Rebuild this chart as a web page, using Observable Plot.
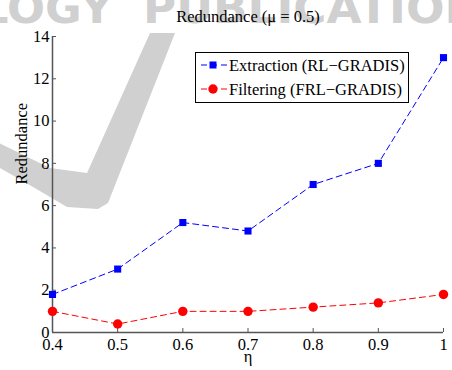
<!DOCTYPE html>
<html>
<head>
<meta charset="utf-8">
<script src="https://cdn.jsdelivr.net/npm/d3@7"></script>
<script src="https://cdn.jsdelivr.net/npm/@observablehq/plot@0.6"></script>
<style>
  body { margin: 0; background: white; }
  #wrap { position: relative; width: 452px; height: 370px; overflow: hidden; }
  #bg, #legend { position: absolute; left: 0; top: 0; }
  #legend { pointer-events: none; z-index: 2; }
  #chart { position: absolute; left: 0; top: 0; z-index: 1; }
</style>
</head>
<body>
<div id="wrap">
  <svg id="bg" width="452" height="370"></svg>
  <div id="chart"></div>
  <svg id="legend" width="452" height="370"></svg>
</div>
<script>
// ---- data ----
const etas = [0.4, 0.5, 0.6, 0.7, 0.8, 0.9, 1.0];
const extraction = [1.8, 3.0, 5.2, 4.8, 7.0, 8.0, 13.0];
const filtering = [1.0, 0.4, 1.0, 1.0, 1.2, 1.4, 1.8];
const seriesNames = ["Extraction (RL\u2212GRADIS)", "Filtering (FRL\u2212GRADIS)"];
const xTicks = [0.4, 0.5, 0.6, 0.7, 0.8, 0.9, 1];
const yTicks = [0, 2, 4, 6, 8, 10, 12, 14];
const titleText = "Redundance (\u03bc = 0.5)";
const xLabel = "\u03b7";
const yLabel = "Redundance";
const watermarkWords = ["LOGY", "PUBLICATIONS"];

const extData = etas.map((e, i) => ({eta: e, value: extraction[i]}));
const filData = etas.map((e, i) => ({eta: e, value: filtering[i]}));

const font = "'Liberation Serif', 'Times New Roman', serif";
const fs = 16.5;
const blue = "#0000ff", red = "#ff0000", axisColor = "#555";

// ---- background watermark (decoration) ----
const bg = d3.select("#bg");
const wmColor = "#d0d0d0";
bg.append("path")
  .attr("d", "M-5,141 L50,168 L87,173 L150,33 L175,33 L108,203 L98,209 L67,207 L33,187 L-5,165 Z")
  .attr("fill", wmColor);
bg.append("text").text(watermarkWords[0])
  .attr("x", -20).attr("y", 23)
  .attr("textLength", 133).attr("lengthAdjust", "spacingAndGlyphs")
  .attr("font-family", "DejaVu Sans").attr("font-weight", "bold").attr("font-size", 42)
  .attr("fill", wmColor);
bg.append("text").text(watermarkWords[1])
  .attr("x", 143).attr("y", 23)
  .attr("textLength", 372).attr("lengthAdjust", "spacingAndGlyphs")
  .attr("font-family", "DejaVu Sans").attr("font-weight", "bold").attr("font-size", 42)
  .attr("fill", wmColor);

// ---- chart ----
const chart = Plot.plot({
  width: 452,
  height: 370,
  marginLeft: 52,
  marginRight: 9,
  marginTop: 36,
  marginBottom: 38,
  style: {fontFamily: font, fontSize: fs + "px", background: "transparent", color: "black", overflow: "visible"},
  x: {domain: [0.4, 1], label: null},
  y: {domain: [0, 14], label: null},
  marks: [
    Plot.ruleX([0.4], {stroke: axisColor, strokeWidth: 1.5}),
    Plot.ruleY([0], {stroke: axisColor, strokeWidth: 1.5}),
    Plot.axisX(xTicks, {tickSize: 4, dy: -4, text: null, stroke: axisColor, label: null}),
    Plot.axisX(xTicks, {tickSize: 0, tickPadding: 6, tickFormat: d => String(d), fontSize: fs, fontFamily: font, label: null}),
    Plot.axisY(yTicks, {tickSize: 4, dx: 4, text: null, stroke: axisColor, label: null}),
    Plot.axisY(yTicks, {tickSize: 0, tickPadding: 3, fontSize: fs, fontFamily: font, label: null}),
    Plot.line(extData, {x: "eta", y: "value", stroke: blue, strokeWidth: 1, strokeDasharray: "6,4"}),
    Plot.line(filData, {x: "eta", y: "value", stroke: red, strokeWidth: 1, strokeDasharray: "6,4"}),
    Plot.dot(extData, {x: "eta", y: "value", symbol: "square", r: 4, fill: blue, stroke: "none"}),
    Plot.dot(filData, {x: "eta", y: "value", symbol: "circle", r: 4.7, fill: red, stroke: "none"}),
    Plot.text([titleText], {frameAnchor: "top", dy: -14.5, lineAnchor: "bottom", fontSize: fs, fontFamily: font}),
    Plot.text([yLabel], {frameAnchor: "left", rotate: -90, dx: -31, fontSize: fs, fontFamily: font}),
    Plot.text([xLabel], {frameAnchor: "bottom", dy: 29, fontSize: fs, fontFamily: font})
  ]
});
document.getElementById("chart").appendChild(chart);

// ---- legend ----
const lg = d3.select("#legend");
lg.append("rect").attr("x", 195.5).attr("y", 52.5).attr("width", 213).attr("height", 50)
  .attr("fill", "white").attr("stroke", "black").attr("stroke-width", 1);
const colors = [blue, red];
seriesNames.forEach((name, i) => {
  const cy = 65 + i * 24;
  lg.append("line").attr("x1", 201).attr("x2", 227).attr("y1", cy).attr("y2", cy)
    .attr("stroke", colors[i]).attr("stroke-width", 1).attr("stroke-dasharray", "6,4");
  if (i === 0) {
    lg.append("rect").attr("x", 213 - 3.5).attr("y", cy - 3.5).attr("width", 7).attr("height", 7).attr("fill", colors[i]);
  } else {
    lg.append("circle").attr("cx", 213).attr("cy", cy).attr("r", 4.7).attr("fill", colors[i]);
  }
  lg.append("text").text(name).attr("x", 229).attr("y", cy + 5.5)
    .attr("font-family", font).attr("font-size", fs).attr("fill", "black");
});
</script>
</body>
</html>
